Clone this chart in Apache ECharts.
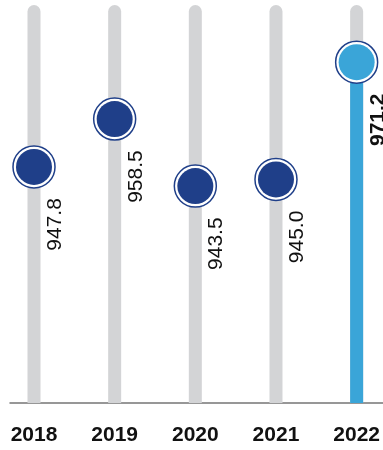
<!DOCTYPE html>
<html>
<head>
<meta charset="utf-8">
<style>
  html, body { margin: 0; padding: 0; background: #ffffff; }
  #chart { width: 383px; height: 450px; }
</style>
<script src="https://cdn.jsdelivr.net/npm/echarts@6/dist/echarts.min.js"></script>
</head>
<body>
<div id="chart"></div>
<script>
// Yearly values
const years = ['2018', '2019', '2020', '2021', '2022'];
const values = [947.8, 958.5, 943.5, 945.0, 971.2];
const valueLabels = ['947.8', '958.5', '943.5', '945.0', '971.2'];

// Value range of the vertical scale
const scaleMin = 895;
const scaleMax = 984;

const NAVY = '#1f3f89';
const SKY = '#3aa5d8';
const TRACK = '#d3d4d6';
const FONT = '"Liberation Sans", Arial, Helvetica, sans-serif';
const last = years.length - 1;

const chart = echarts.init(document.getElementById('chart'), null, { renderer: 'canvas' });

chart.setOption({
  animation: false,
  backgroundColor: '#ffffff',
  grid: [
    { left: 34, right: 23, top: 5, bottom: 47 },
    // baseline rule spanning almost the full width
    { left: 10, right: 0, top: 403, height: 0 }
  ],
  xAxis: [
    {
      type: 'category',
      gridIndex: 0,
      data: years,
      boundaryGap: false,
      axisLine: { show: false },
      axisTick: { show: false },
      axisLabel: {
        color: '#111111',
        fontFamily: FONT,
        fontSize: 21,
        fontWeight: 'bold',
        margin: 22
      }
    },
    {
      type: 'value',
      gridIndex: 1,
      axisLine: { show: true, onZero: false, lineStyle: { color: '#757575', width: 1.5 } },
      axisTick: { show: false },
      axisLabel: { show: false },
      splitLine: { show: false }
    }
  ],
  yAxis: [
    { type: 'value', gridIndex: 0, min: scaleMin, max: scaleMax, show: false },
    { type: 'value', gridIndex: 1, show: false }
  ],
  series: [
    {
      // full-height grey tracks
      type: 'bar',
      barWidth: 13,
      barGap: '-100%',
      silent: true,
      data: years.map(() => scaleMax),
      itemStyle: { color: TRACK, borderRadius: [7, 7, 0, 0] },
      z: 1
    },
    {
      // highlighted latest year
      type: 'bar',
      barWidth: 13,
      barGap: '-100%',
      data: values.map((v, i) => (i === last ? v : null)),
      itemStyle: { color: SKY },
      z: 2
    },
    {
      // white ring with navy outline
      type: 'scatter',
      symbol: 'circle',
      symbolSize: 42,
      data: values.map((v, i) => (i === last
        ? { value: v, label: { fontWeight: 'bold' } }
        : v)),
      itemStyle: { color: '#ffffff', borderColor: NAVY, borderWidth: 1.5, opacity: 1 },
      label: {
        show: true,
        position: [43, 53],
        rotate: 90,
        align: 'right',
        verticalAlign: 'middle',
        fontFamily: FONT,
        fontSize: 21,
        color: '#111111',
        formatter: (p) => valueLabels[p.dataIndex]
      },
      z: 3
    },
    {
      // inner disc
      type: 'scatter',
      symbol: 'circle',
      symbolSize: 36,
      data: values.map((v, i) => ({
        value: v,
        itemStyle: { color: i === last ? SKY : NAVY }
      })),
      itemStyle: { opacity: 1 },
      z: 4
    }
  ]
});
</script>
</body>
</html>
